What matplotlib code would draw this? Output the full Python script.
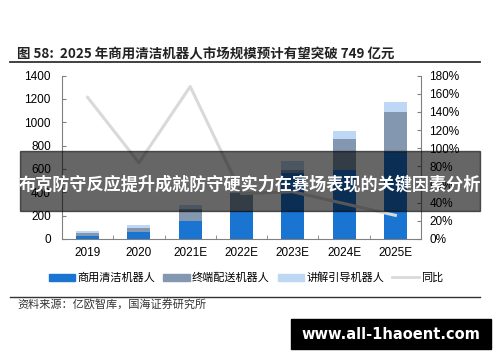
import numpy as np
import matplotlib
matplotlib.use("Agg")
from matplotlib import pyplot as plt
from matplotlib.patches import Rectangle
from matplotlib.lines import Line2D

plt.rcParams['font.family'] = ['Liberation Sans', 'Noto Sans CJK SC', 'DejaVu Sans']

# data
years = ['2019', '2020', '2021E', '2022E', '2023E', '2024E', '2025E']
clean = [26, 57, 157, 240, 563, 590, 749]      # 商用清洁机器人
delivery = [23, 34, 100, 155, 25, 267, 337]    # 终端配送机器人
guide = [22, 29, 34, 10, 80, 68, 85]           # 讲解引导机器人
yoy = [1.56, 0.84, 1.68, 0.50, 0.52, 0.39, 0.26]  # 同比

C_CLEAN = '#1a75d2'
C_DELIV = '#8497b0'
C_GUIDE = '#bdd7f5'
C_LINE = '#d9d9d9'
CJK = ['Noto Sans CJK SC', 'DejaVu Sans']

fig = plt.figure(figsize=(5, 3.62), dpi=100)
ax = fig.add_axes([0.124, 0.34, 0.718, 0.451])
x = np.arange(len(years))
w = 0.45
b1 = np.array(clean)
b2 = b1 + np.array(delivery)
ax.bar(x, clean, w, color=C_CLEAN, zorder=2)
ax.bar(x, delivery, w, bottom=b1, color=C_DELIV, zorder=2)
ax.bar(x, guide, w, bottom=b2, color=C_GUIDE, zorder=2)
ax.set_xlim(-0.5, len(years) - 0.5)
ax.set_ylim(0, 1400)
ax.set_yticks(range(0, 1401, 200))
ax.set_xticks(x)
ax.set_xticklabels(years)
ax.set_xticks(np.arange(0.5, len(years) - 1, 1), minor=True)
ax.tick_params(axis='x', which='major', length=0, labelsize=8.5, pad=6)
ax.tick_params(axis='x', which='minor', direction='in', length=3, color='#808080')
ax.tick_params(axis='y', direction='in', length=3, color='#808080', labelsize=8.5, pad=8)
for s in ['top', 'right']:
    ax.spines[s].set_visible(False)
for s in ['left', 'bottom']:
    ax.spines[s].set_color('#808080')

ax2 = ax.twinx()
ax2.plot(x, yoy, color=C_LINE, lw=2.2, zorder=3)
ax2.set_ylim(0, 1.8)
ax2.set_yticks(np.arange(0, 1.81, 0.2))
ax2.set_yticklabels([f'{int(round(v * 100))}%' for v in np.arange(0, 1.81, 0.2)])
ax2.tick_params(axis='y', direction='in', length=3, color='#808080', labelsize=8.5, pad=6)
for s in ['top', 'left', 'bottom']:
    ax2.spines[s].set_visible(False)
ax2.spines['right'].set_color('#808080')

# legend
handles = [Rectangle((0, 0), 1, 1, color=C_CLEAN),
           Rectangle((0, 0), 1, 1, color=C_DELIV),
           Rectangle((0, 0), 1, 1, color=C_GUIDE),
           Line2D([0], [0], color=C_LINE, lw=2)]
labels = ['商用清洁机器人', '终端配送机器人', '讲解引导机器人', '同比']
fig.legend(handles, labels, loc='center', bbox_to_anchor=(0.492, 0.233), ncol=4,
           frameon=False, prop={'family': CJK, 'size': 8}, handlelength=2.4,
           handleheight=0.6, handletextpad=0.2, columnspacing=0.7)

# title and rules
fig.text(0.034, 0.851, '图 58:  2025 年商用清洁机器人市场规模预计有望突破 749 亿元',
         fontsize=9.7, fontweight='bold', family=CJK, va='center', color='#222222')
fig.add_artist(Line2D([0.02, 0.96], [0.83, 0.83], color='#333333', lw=1.3))
fig.add_artist(Line2D([0.02, 0.96], [0.18, 0.18], color='#333333', lw=1.0))
fig.text(0.034, 0.157, '资料来源：亿欧智库，国海证券研究所', fontsize=8, family=CJK,
         va='center', color='#333333')

# dark banner with caption
fig.patches.append(Rectangle((0.04, 0.418), 0.92, 0.166, transform=fig.transFigure,
                             color='black', alpha=0.6, zorder=10))
fig.text(0.5, 0.49, '布克防守反应提升成就防守硬实力在赛场表现的关键因素分析',
         fontsize=12.3, fontweight='bold', family=CJK, color='white',
         ha='center', va='center', zorder=11)

# watermark box
fig.patches.append(Rectangle((0.582, 0.035), 0.4, 0.083, transform=fig.transFigure,
                             color='black', zorder=10))
fig.text(0.782, 0.075, 'www.all-1haoent.com', fontsize=10.5, fontweight='bold',
         family=['DejaVu Sans'], color='white', ha='center', va='center', zorder=11)

fig.savefig('out.png', dpi=100)
